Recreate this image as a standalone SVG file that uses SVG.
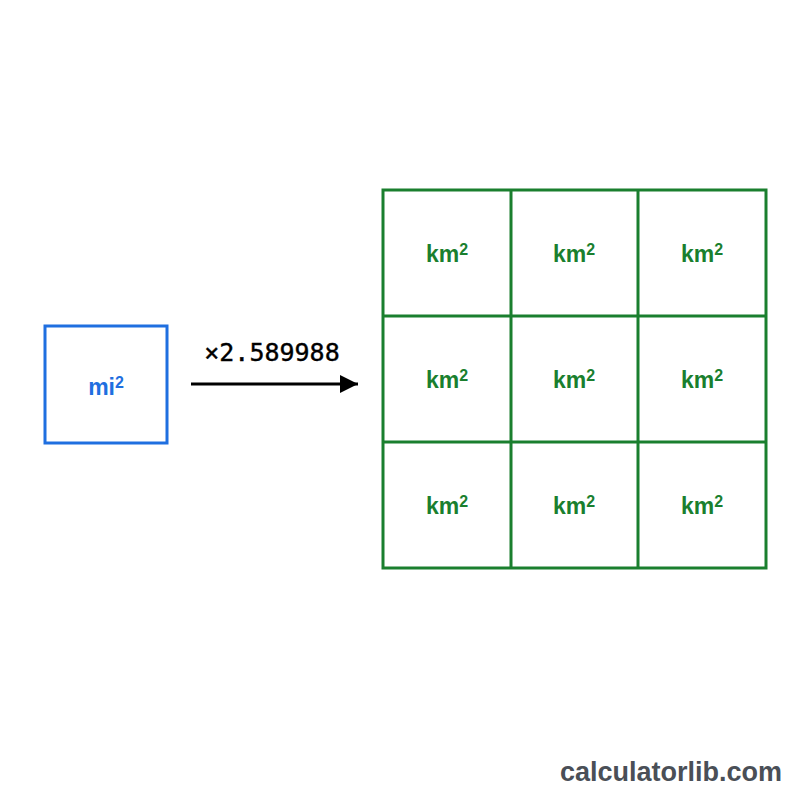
<svg xmlns="http://www.w3.org/2000/svg" width="800" height="800" viewBox="0 0 800 800">
<style>
.g{fill:none;stroke:#1a7f2e;stroke-width:3}
.k{font-family:"Liberation Sans",Arial,sans-serif;font-weight:bold;font-size:23px;fill:#1a7f2e;text-anchor:middle}
.s{font-size:16px;baseline-shift:45%}
</style>
<defs><marker id="ah" viewBox="0 0 10 10" refX="10" refY="5" markerWidth="6" markerHeight="6" markerUnits="strokeWidth" orient="auto"><path d="M0,0L10,5L0,10z" fill="#000"/></marker></defs>
<rect width="800" height="800" fill="#fff"/>
<g id="mi"><rect x="45" y="326" width="122" height="117" fill="none" stroke="#1f6fe0" stroke-width="3"/>
<text x="106" y="395" font-family="Liberation Sans,Arial,sans-serif" font-weight="bold" font-size="23" fill="#1f6fe0" text-anchor="middle">mi<tspan class="s">2</tspan></text></g>
<g id="connectors"><line x1="191" y1="384" x2="358" y2="384" stroke="#000" stroke-width="3" marker-end="url(#ah)"/>
<text x="272" y="361" font-family="DejaVu Sans Mono,monospace" font-size="25" fill="#000" text-anchor="middle" stroke="#000" stroke-width="0.4">×2.589988</text></g>
<g id="grid">
<rect class="g" x="383" y="190" width="383" height="378"/>
<line class="g" x1="511" y1="190" x2="511" y2="568"/><line class="g" x1="638" y1="190" x2="638" y2="568"/>
<line class="g" x1="383" y1="316" x2="766" y2="316"/><line class="g" x1="383" y1="442" x2="766" y2="442"/>
<text class="k" x="447" y="262">km<tspan class="s">2</tspan></text><text class="k" x="574" y="262">km<tspan class="s">2</tspan></text><text class="k" x="702" y="262">km<tspan class="s">2</tspan></text>
<text class="k" x="447" y="388">km<tspan class="s">2</tspan></text><text class="k" x="574" y="388">km<tspan class="s">2</tspan></text><text class="k" x="702" y="388">km<tspan class="s">2</tspan></text>
<text class="k" x="447" y="514">km<tspan class="s">2</tspan></text><text class="k" x="574" y="514">km<tspan class="s">2</tspan></text><text class="k" x="702" y="514">km<tspan class="s">2</tspan></text>
</g>
<text x="782" y="781" font-family="Liberation Sans,Arial,sans-serif" font-weight="bold" font-size="27" fill="#4a4f57" text-anchor="end">calculatorlib.com</text>
</svg>
